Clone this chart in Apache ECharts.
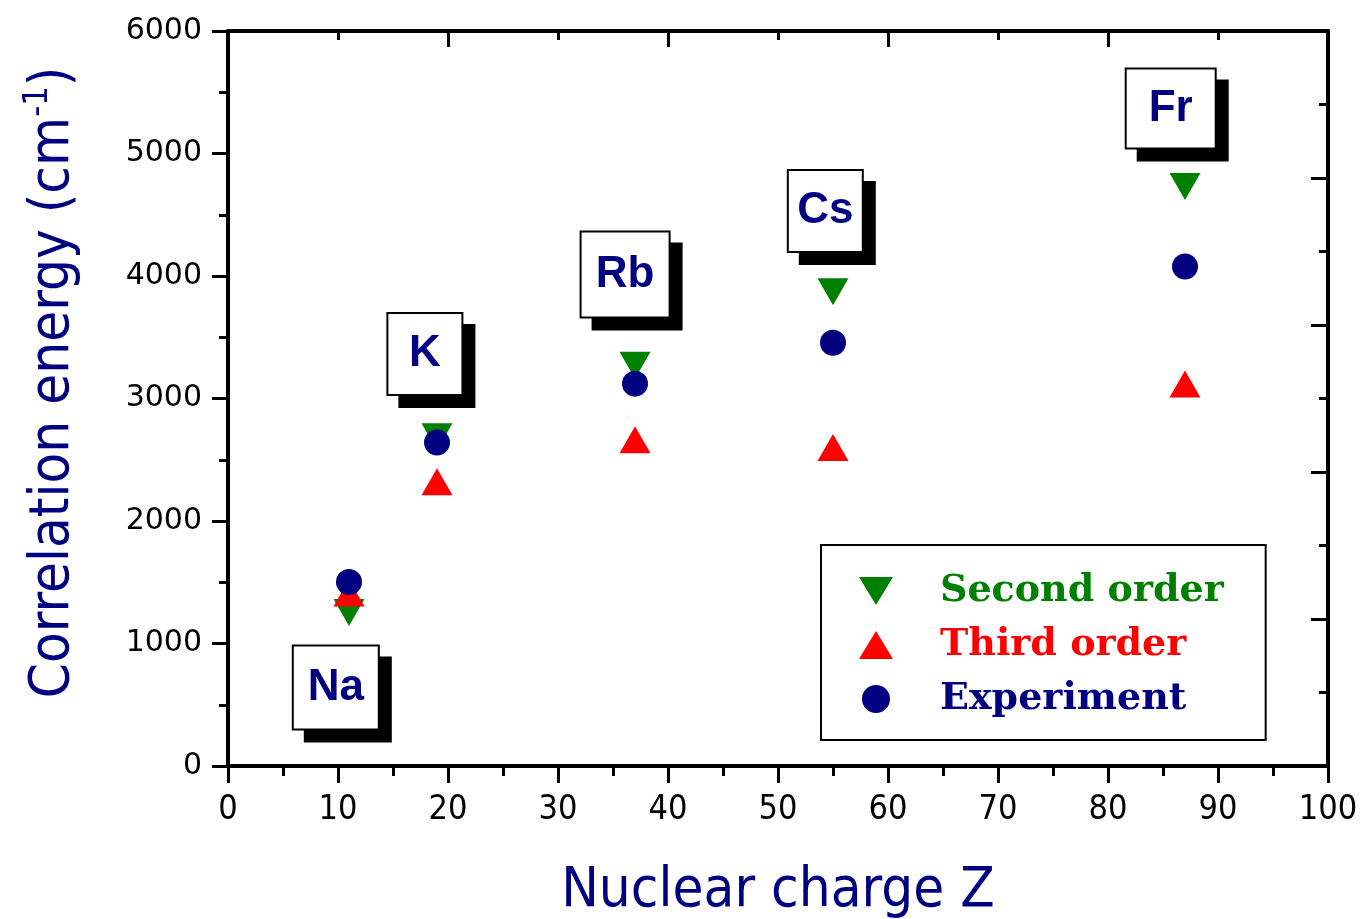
<!DOCTYPE html>
<html><head><meta charset="utf-8">
<script src="https://cdn.jsdelivr.net/npm/echarts@6/dist/echarts.min.js"></script>
<style>html,body{margin:0;padding:0;background:#fff}#c{width:1360px;height:919px}</style>
</head><body><div id="c"></div>
<script>
// ---- data ----
const elements = ['Na', 'K', 'Rb', 'Cs', 'Fr'];
const nuclearCharge = [11, 19, 37, 55, 87];
const secondOrder = [1253, 2688, 3271, 3872, 4731];
const thirdOrder = [1412, 2320, 2664, 2600, 3118];
const experiment = [1502, 2641, 3121, 3455, 4078];
// annotation anchor points (data units)
const labelZ = [9.8, 17.9, 36.1, 54.3, 85.7];
const labelE = [641, 3363, 4012, 4531, 5367];
const seriesNames = ['Second order', 'Third order', 'Experiment'];

// ---- styling ----
const GREEN = '#008000', RED = '#ff0000', NAVY = '#000080';
const BOX_W = [84, 73, 87, 73, 88];
const BOX_PAD_V = [17, 16, 18, 16, 15];
const pts = (ys) => nuclearCharge.map((z, i) => [z, ys[i]]);

const axisLineS = { show: true, onZero: false, lineStyle: { color: '#000', width: 4 } };
const tickS = (inside, len) => ({ show: true, inside: inside, length: len, lineStyle: { color: '#000', width: 3 } });
const minorS = (len) => ({ show: true, splitNumber: 2, length: len, lineStyle: { color: '#000', width: 3 } });

const chart = echarts.init(document.getElementById('c'), null, { renderer: 'canvas' });
chart.setOption({
  backgroundColor: '#fff',
  animation: false,
  grid: { left: 228, right: 32, top: 31, bottom: 153, outerBoundsMode: 'none', containLabel: false },
  xAxis: [
    {
      type: 'value', position: 'bottom', min: 0, max: 100, interval: 10,
      axisLine: axisLineS, axisTick: tickS(false, 17), minorTick: minorS(10),
      splitLine: { show: false }, minorSplitLine: { show: false },
      axisLabel: { fontFamily: 'DejaVu Sans Condensed', fontSize: 34, color: '#000', margin: 27, formatter: (v) => String(v) },
      name: 'Nuclear charge Z', nameLocation: 'middle', nameGap: 97,
      nameTextStyle: { fontFamily: 'DejaVu Sans Condensed', fontSize: 56, color: NAVY }
    },
    {
      type: 'value', position: 'top', min: 0, max: 100, interval: 20,
      axisLine: axisLineS, axisTick: tickS(true, 16), minorTick: minorS(9),
      splitLine: { show: false }, minorSplitLine: { show: false },
      axisLabel: { show: false }
    }
  ],
  yAxis: [
    {
      type: 'value', position: 'left', min: 0, max: 6000, interval: 1000,
      axisLine: axisLineS, axisTick: tickS(false, 16), minorTick: minorS(9),
      splitLine: { show: false }, minorSplitLine: { show: false },
      axisLabel: { fontFamily: 'DejaVu Sans', fontSize: 30, color: '#000', margin: 26, formatter: (v) => String(v) },
      name: '{a|Correlation energy (cm}{s|-1}{a|)}', nameLocation: 'middle', nameGap: 143,
      nameTextStyle: {
        padding: [0, 0, 0, 32],
        rich: {
          a: { fontFamily: 'DejaVu Sans Condensed', fontSize: 56, color: NAVY, lineHeight: 64 },
          s: { fontFamily: 'DejaVu Sans Condensed', fontSize: 34, color: NAVY, lineHeight: 34, verticalAlign: 'top' }
        }
      }
    },
    {
      type: 'value', position: 'right', min: 0, max: 5, interval: 1,
      axisLine: axisLineS, axisTick: tickS(true, 17), minorTick: minorS(9),
      splitLine: { show: false }, minorSplitLine: { show: false },
      axisLabel: { show: false }
    }
  ],
  legend: {
    left: 821, top: 545, orient: 'vertical',
    itemWidth: 34, itemHeight: 28, itemGap: 16,
    padding: [27, 42, 22, 38],
    backgroundColor: '#fff', borderColor: '#000', borderWidth: 2, borderRadius: 0,
    selectedMode: false,
    textStyle: { fontFamily: 'DejaVu Serif', fontWeight: 'bold', fontSize: 38, padding: [0, 0, 0, 42] },
    data: [
      { name: seriesNames[0], icon: 'path://M0,0L33,0L16.5,27Z', textStyle: { color: GREEN } },
      { name: seriesNames[1], icon: 'path://M16.5,0L33,27L0,27Z', textStyle: { color: RED } },
      { name: seriesNames[2], icon: 'path://M14,0A14,14,0,1,1,13.99,0Z', textStyle: { color: NAVY } }
    ]
  },
  series: [
    {
      type: 'scatter', name: seriesNames[0], data: pts(secondOrder), xAxisIndex: 0, yAxisIndex: 0,
      symbol: 'triangle', symbolRotate: 180, symbolSize: [31, 27],
      itemStyle: { color: GREEN, opacity: 1 }, z: 2
    },
    {
      type: 'scatter', name: seriesNames[1], data: pts(thirdOrder), xAxisIndex: 0, yAxisIndex: 0,
      symbol: 'triangle', symbolSize: [31, 27],
      itemStyle: { color: RED, opacity: 1 }, z: 3
    },
    {
      type: 'scatter', name: seriesNames[2], data: pts(experiment), xAxisIndex: 0, yAxisIndex: 0,
      symbol: 'circle', symbolSize: 26,
      itemStyle: { color: NAVY, opacity: 1 }, z: 4
    },
    {
      type: 'scatter', name: 'labels', xAxisIndex: 0, yAxisIndex: 0, silent: true,
      data: elements.map((n, i) => ({
        name: n, value: [labelZ[i], labelE[i]],
        label: { width: BOX_W[i] - 4, padding: [BOX_PAD_V[i], 2] }
      })),
      symbol: 'circle', symbolSize: 0.1, itemStyle: { color: 'rgba(0,0,0,0)', opacity: 1 }, z: 5,
      label: {
        show: true, position: 'inside', formatter: '{b}', align: 'center',
        fontFamily: 'Liberation Sans', fontWeight: 'bold', fontSize: 44, lineHeight: 48,
        color: NAVY, backgroundColor: '#fff', borderColor: '#000', borderWidth: 2, opacity: 1,
        shadowColor: '#000', shadowBlur: 0, shadowOffsetX: 12, shadowOffsetY: 12
      }
    }
  ]
});
</script>
</body></html>
